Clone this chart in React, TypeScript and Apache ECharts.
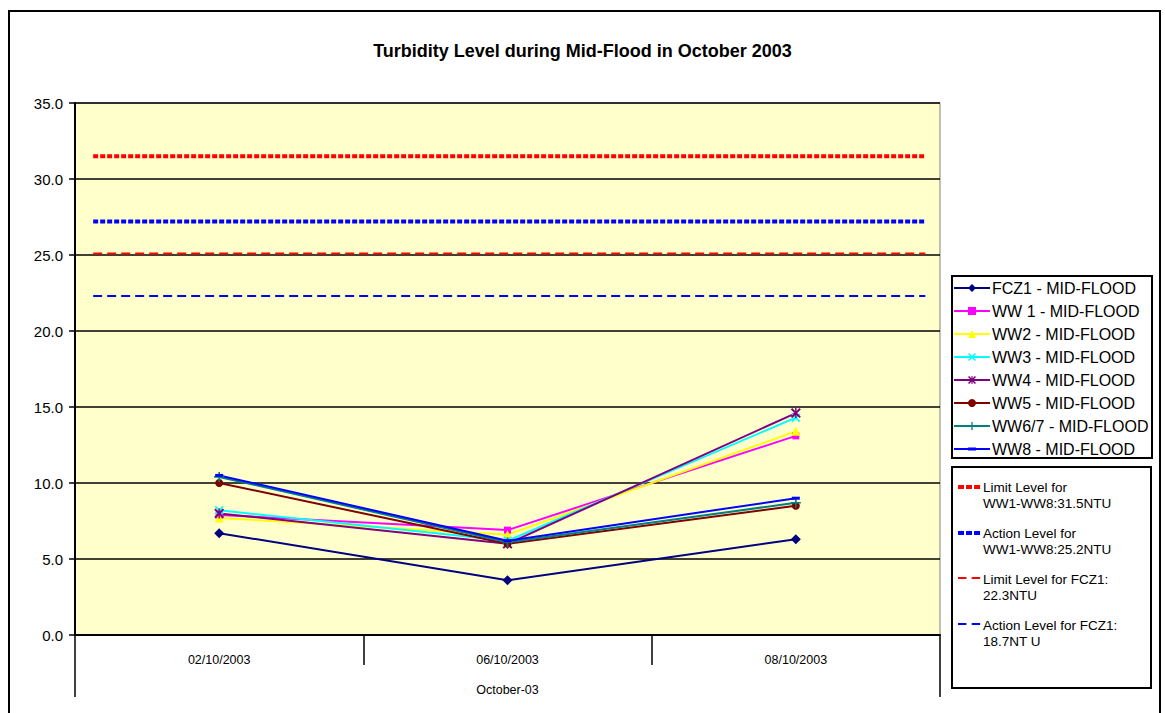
import React, { useEffect, useRef } from "react";
import * as echarts from "echarts";

const categories = ["02/10/2003", "06/10/2003", "08/10/2003"];
const groupLabel = ["October-03"];
const yTicks = { min: 0, max: 35, interval: 5 };

const fcz1 = [6.7, 3.6, 6.3];
const ww1 = [7.9, 6.9, 13.1];
const ww2 = [7.7, 6.6, 13.4];
const ww3 = [8.2, 6.2, 14.3];
const ww4 = [8.0, 6.0, 14.6];
const ww5 = [10.0, 6.0, 8.5];
const ww67 = [10.4, 6.1, 8.7];
const ww8 = [10.5, 6.2, 9.0];

const refSpan = [0.021, 0.983];
const limitWW = 31.5;
const actionWW = 27.2;
const limitFCZ = 25.1;
const actionFCZ = 22.3;

const FONT = "'Liberation Sans', Arial, sans-serif";

const xPath = "path://M0,1.4L1.4,0L5,3.6L8.6,0L10,1.4L6.4,5L10,8.6L8.6,10L5,6.4L1.4,10L0,8.6L3.6,5Z";
const starPath =
  "path://M0,1.4L1.4,0L5,3.6L8.6,0L10,1.4L6.4,5L10,8.6L8.6,10L5,6.4L1.4,10L0,8.6L3.6,5Z M4.3,0L5.7,0L5.7,10L4.3,10Z";
const plusPath = "path://M4.2,0H5.8V4.2H10V5.8H5.8V10H4.2V5.8H0V4.2H4.2Z";
const dashMark = "path://M0,0H8V3H0Z";
const ww8LegendIcon = "path://M0,4.1H36V5.9H0Z M14,3.4H22V6.6H14Z M0,0H0.01V0.01H0Z M0,9.99H0.01V10H0Z";

const dottedIcon = "path://M0,0H6V4H0Z M8,0H14V4H8Z M16,0H22V4H16Z M0,19.99H0.01V20H0Z";
const dashedIcon = "path://M0,1H8V3H0Z M13,1H21V3H13Z M0,19.99H0.01V20H0Z";

export default function App() {
  const ref = useRef<HTMLDivElement>(null);
  useEffect(() => {
    if (!ref.current) return;
    const chart = echarts.init(ref.current, undefined, { renderer: "svg" });

    const mk = (name: string, data: number[], color: string, symbol: string, size: any) => ({
      name,
      type: "line",
      xAxisIndex: 0,
      yAxisIndex: 0,
      data,
      symbol,
      symbolSize: size,
      showSymbol: true,
      lineStyle: { color, width: 2 },
      itemStyle: { color },
      z: 3,
    });

    const ref2 = (name: string, value: number, color: string, width: number, dash: number[]) => ({
      name,
      type: "line",
      xAxisIndex: 2,
      yAxisIndex: 0,
      data: refSpan.map((x) => [x, value]),
      symbol: "none",
      lineStyle: { color, width, type: dash },
      itemStyle: { color },
      z: 2,
    });

    const names1 = [
      "FCZ1 - MID-FLOOD",
      "WW 1 - MID-FLOOD",
      "WW2 - MID-FLOOD",
      "WW3 - MID-FLOOD",
      "WW4 - MID-FLOOD",
      "WW5 - MID-FLOOD",
      "WW6/7 - MID-FLOOD",
      "WW8 - MID-FLOOD",
    ];
    const names2 = [
      "Limit Level for\nWW1-WW8:31.5NTU",
      "Action Level for\nWW1-WW8:25.2NTU",
      "Limit Level for FCZ1:\n22.3NTU",
      "Action Level for FCZ1:\n18.7NT U",
    ];
    const icons2 = [dottedIcon, dottedIcon, dashedIcon, dashedIcon];

    chart.setOption({
      animation: false,
      backgroundColor: "#ffffff",
      title: {
        text: "Turbidity Level during Mid-Flood in October 2003",
        left: "center",
        top: 37,
        textStyle: { fontFamily: FONT, fontSize: 18, fontWeight: "bold", color: "#000" },
      },
      graphic: [
        {
          type: "rect",
          shape: { x: 9, y: 11, width: 1151, height: 712 },
          style: { fill: "none", stroke: "#000", lineWidth: 2 },
          z: 0,
        },
        {
          type: "rect",
          shape: { x: 952, y: 276, width: 200, height: 182 },
          style: { fill: "#fff", stroke: "#000", lineWidth: 2 },
          z: 0,
        },
        {
          type: "rect",
          shape: { x: 952, y: 467, width: 199, height: 221 },
          style: { fill: "#fff", stroke: "#000", lineWidth: 2 },
          z: 0,
        },
      ],
      legend: [
        {
          data: names1.map((n, i) => (i === 7 ? { name: n, icon: ww8LegendIcon } : n)),
          orient: "vertical",
          left: 953,
          top: 279,
          padding: 0,
          itemWidth: 36,
          itemHeight: 10,
          itemGap: 5,
          itemStyle: { borderWidth: 0 },
          textStyle: { fontFamily: FONT, fontSize: 16, lineHeight: 18, color: "#000", padding: [0, 0, 0, -3] },
          z: 5,
        },
        {
          data: names2.map((n, i) => ({ name: n, icon: icons2[i] })),
          orient: "vertical",
          left: 958,
          top: 479,
          padding: 0,
          itemWidth: 24,
          itemHeight: 20,
          itemGap: 14,
          textStyle: { fontFamily: FONT, fontSize: 13.5, lineHeight: 16, color: "#000", padding: [0, 0, 0, -3] },
          z: 5,
        },
      ],
      grid: {
        left: 75,
        top: 103,
        width: 865,
        height: 532,
        show: true,
        backgroundColor: "#FFFFCC",
        borderColor: "#808080",
        borderWidth: 1,
      },
      xAxis: [
        {
          type: "category",
          data: categories,
          boundaryGap: true,
          position: "bottom",
          axisLine: { show: true, lineStyle: { color: "#000", width: 2 } },
          axisTick: { show: true, interval: 0, length: 30, lineStyle: { color: "#000", width: 1.5 } },
          axisLabel: { margin: 18, fontFamily: FONT, fontSize: 12.5, color: "#000" },
          splitLine: { show: false },
        },
        {
          type: "category",
          data: groupLabel,
          boundaryGap: true,
          position: "bottom",
          offset: 30,
          axisLine: { show: false },
          axisTick: { show: true, interval: 0, length: 32, lineStyle: { color: "#000", width: 1.5 } },
          axisLabel: { margin: 18, fontFamily: FONT, fontSize: 12.5, color: "#000" },
          splitLine: { show: false },
        },
        {
          type: "value",
          min: 0,
          max: 1,
          show: false,
          splitLine: { show: false },
        },
      ],
      yAxis: {
        type: "value",
        min: yTicks.min,
        max: yTicks.max,
        interval: yTicks.interval,
        axisLine: { show: true, lineStyle: { color: "#000", width: 2 } },
        axisTick: { show: true, length: 6, lineStyle: { color: "#000", width: 1.5 } },
        axisLabel: {
          fontFamily: FONT,
          fontSize: 15,
          color: "#000",
          margin: 12,
          formatter: (v: number) => v.toFixed(1),
        },
        splitLine: { show: true, lineStyle: { color: "#000", width: 1.5 } },
      },
      series: [
        mk(names1[0], fcz1, "#000080", "diamond", 10),
        mk(names1[1], ww1, "#FF00FF", "rect", 7),
        mk(names1[2], ww2, "#FFFF00", "triangle", 9),
        mk(names1[3], ww3, "#00FFFF", xPath, 9),
        mk(names1[4], ww4, "#800080", starPath, 10),
        mk(names1[5], ww5, "#800000", "circle", 8),
        mk(names1[6], ww67, "#008080", plusPath, 10),
        mk(names1[7], ww8, "#0000FF", dashMark, [8, 3]),
        ref2(names2[0], limitWW, "#FF0000", 4, [5, 2]),
        ref2(names2[1], actionWW, "#0000FF", 4, [5, 2]),
        ref2(names2[2], limitFCZ, "#FF0000", 2, [9, 5]),
        ref2(names2[3], actionFCZ, "#0000FF", 2, [9, 5]),
      ],
    });
    return () => chart.dispose();
  }, []);

  return (
    <div
      ref={ref}
      style={{ position: "absolute", left: 0, top: 0, width: 1165, height: 713 }}
    />
  );
}
